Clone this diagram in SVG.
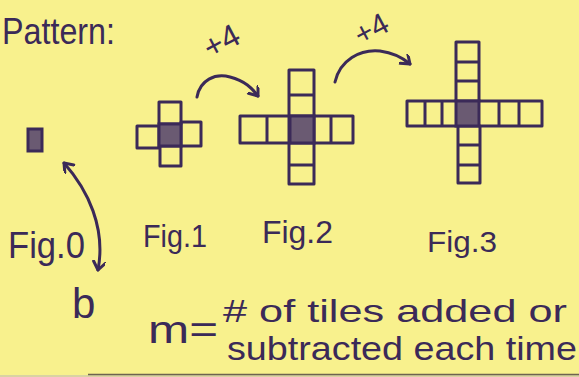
<svg xmlns="http://www.w3.org/2000/svg" width="579" height="377" viewBox="0 0 579 377">
<defs>
<marker id="ah" markerWidth="14" markerHeight="14" refX="9" refY="6" orient="auto-start-reverse" markerUnits="userSpaceOnUse">
<path d="M1,0 L9,6 L1,12" fill="none" stroke="#3b2a58" stroke-width="3" stroke-linecap="round" stroke-linejoin="round"/>
</marker>
<style>
.ink{fill:none;stroke:#3b2a58;stroke-width:3;stroke-linecap:round;stroke-linejoin:round}
.core{fill:#6a5a72;stroke:#3b2a58;stroke-width:3}
.t{font-family:"Liberation Sans","DejaVu Sans",sans-serif;fill:#3b2a58}
</style>
</defs>
<rect x="0" y="0" width="579" height="377" fill="#f8f18d"/>
<rect x="0" y="375" width="579" height="2" fill="#d9d3a2"/>
<line x1="88" y1="374.5" x2="579" y2="374.5" stroke="#6e6450" stroke-width="1.5"/>

<text class="t" x="2" y="44" font-size="36" textLength="113" lengthAdjust="spacingAndGlyphs">Pattern:</text>

<g id="fig0">
<rect class="core" x="28" y="129" width="14" height="22"/>
<text class="t" x="8" y="258" font-size="36" textLength="77" lengthAdjust="spacingAndGlyphs">Fig.0</text>
</g>

<g id="fig1">
<rect class="ink" x="159" y="102" width="22" height="22"/>
<rect class="ink" x="137" y="126" width="22" height="22"/>
<rect class="ink" x="181" y="122" width="20" height="24"/>
<rect class="ink" x="160" y="146" width="21" height="20"/>
<rect class="core" x="159" y="124" width="22" height="22"/>
<text class="t" x="143" y="247" font-size="32" textLength="64" lengthAdjust="spacingAndGlyphs">Fig.1</text>
</g>

<g id="fig2">
<path class="ink" d="M240,116 H353 V143 H240 Z M267,116 V143 M331,116 V143"/>
<path class="ink" d="M289,70 H314 V184 H289 Z M289,95 H314 M289,165 H314"/>
<rect class="core" x="290" y="116" width="24" height="27"/>
<text class="t" x="262" y="243" font-size="32" textLength="71" lengthAdjust="spacingAndGlyphs">Fig.2</text>
</g>

<g id="fig3">
<path class="ink" d="M407,101 H542 V126 H407 Z M425,101 V126 M442,101 V126 M499,101 V126 M519,101 V126"/>
<path class="ink" d="M456,42 H479 V101 M456,42 V101 M456,62 H479 M456,81 H479"/>
<path class="ink" d="M458,126 V183 H480 V126 M458,145 H480 M458,165 H480"/>
<rect class="core" x="456" y="101" width="23" height="25"/>
<text class="t" x="427" y="252" font-size="30" textLength="70" lengthAdjust="spacingAndGlyphs">Fig.3</text>
</g>

<g id="connectors">
<path class="ink" d="M197,97 C200,80 215,73 230,77 C245,81 252,88 258,96" marker-end="url(#ah)"/>
<path class="ink" d="M335,82 C340,60 360,49 380,51 C395,53 403,58 410,64" marker-end="url(#ah)"/>
<path class="ink" d="M64,163 C88,190 106,228 98,270" marker-start="url(#ah)" marker-end="url(#ah)"/>
</g>

<g id="labels">
<text class="t" x="222" y="52" font-size="32" text-anchor="middle" transform="rotate(-28 222 42)">+4</text>
<text class="t" x="372" y="39" font-size="30" text-anchor="middle" transform="rotate(-28 372 30)">+4</text>
<text class="t" x="72" y="318" font-size="42">b</text>
<text class="t" x="148" y="343" font-size="38" textLength="70" lengthAdjust="spacingAndGlyphs">m=</text>
<text class="t" x="223" y="322" font-size="32" textLength="344" lengthAdjust="spacingAndGlyphs"># of tiles added or</text>
<text class="t" x="227" y="360" font-size="34" textLength="350" lengthAdjust="spacingAndGlyphs">subtracted each time</text>
</g>
</svg>
